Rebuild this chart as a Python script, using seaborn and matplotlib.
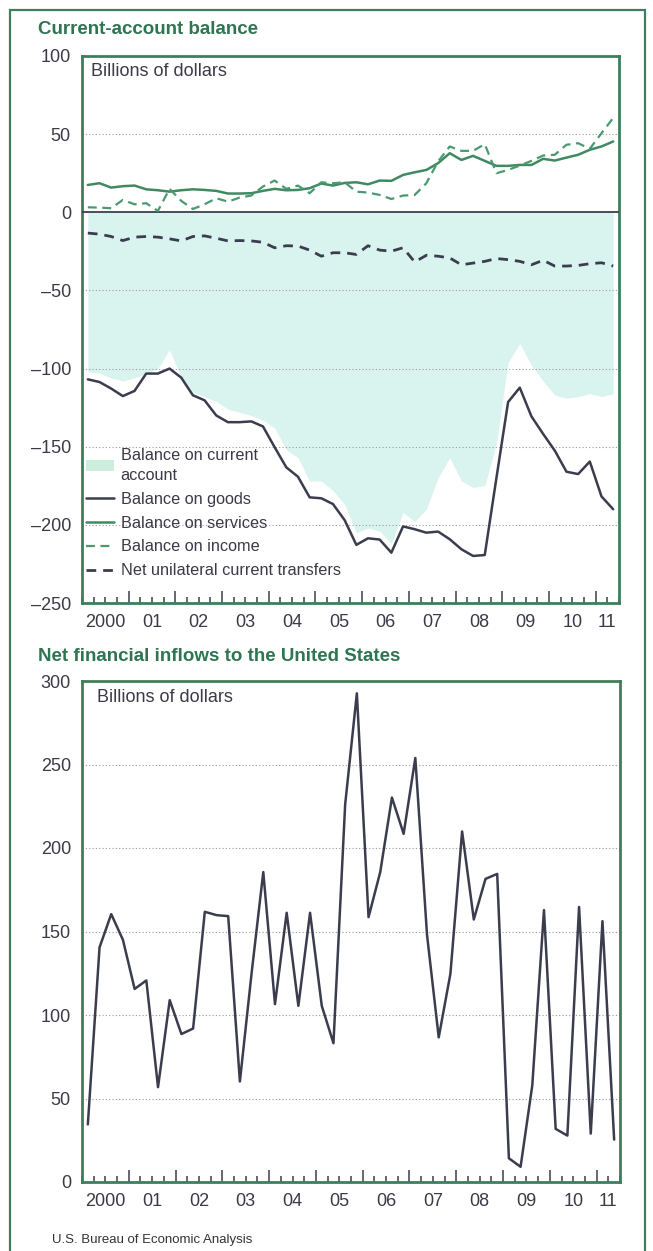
import matplotlib
matplotlib.use("Agg")
import matplotlib.pyplot as plt
import seaborn as sns
import pandas as pd
from matplotlib.patches import Patch, Rectangle
from matplotlib.lines import Line2D
from matplotlib.ticker import MultipleLocator

# ---------------- data (billions of dollars, quarterly 2000Q1-2011Q2) ----------------
years = list(range(2000, 2012))
n_quarters = 46

current_account = [-102, -103, -106, -108, -106, -103, -100, -88, -106, -115,
                   -118, -121, -126, -128, -130, -133, -138, -152, -157, -172,
                   -172, -178, -187, -205, -202, -204, -212, -192, -198, -190,
                   -170, -157, -172, -176, -175, -148, -96, -84, -98, -108,
                   -117, -119, -118, -116, -118, -116]
goods = [-106.9, -108.6, -112.8, -117.6, -114.3, -103.2, -103.2, -100.0, -105.8, -117.1,
         -120.3, -130.0, -134.3, -134.3, -133.8, -137.0, -150.3, -163.2, -169.2, -182.4,
         -183.0, -186.7, -197.0, -212.8, -208.6, -209.4, -217.8, -201.0, -202.8, -205.0,
         -204.3, -209.2, -215.6, -219.9, -219.3, -170.0, -121.4, -112.2, -130.6, -141.8,
         -152.5, -166.0, -167.5, -159.5, -181.8, -190.0]
services = [17.5, 18.6, 15.8, 16.7, 17.1, 14.7, 14.1, 13.2, 14.1, 14.7,
            14.3, 13.7, 12.0, 12.0, 12.2, 13.7, 15.0, 14.1, 14.3, 15.4,
            18.4, 17.1, 18.8, 19.2, 17.9, 20.3, 20.1, 23.9, 25.6, 27.1,
            31.4, 37.8, 33.5, 36.1, 32.9, 29.7, 29.7, 30.3, 30.3, 34.2,
            33.1, 35.0, 36.8, 40.0, 42.1, 45.3]
income = [3.2, 3.0, 2.6, 7.9, 5.1, 5.8, 0.9, 15.0, 7.3, 2.1,
          5.1, 9.0, 6.8, 9.4, 10.7, 16.5, 20.3, 15.0, 17.1, 12.2,
          19.2, 18.6, 19.2, 13.2, 12.6, 11.1, 8.5, 10.7, 11.1, 18.6,
          32.5, 42.1, 39.3, 39.3, 43.6, 25.0, 27.1, 29.9, 32.9, 36.3,
          36.8, 43.2, 44.2, 40.6, 50.6, 60.3]
transfers = [-13.3, -14.0, -15.5, -18.1, -15.9, -15.5, -15.9, -17.0, -18.3, -15.5,
             -15.1, -16.6, -18.3, -18.1, -18.3, -19.2, -22.7, -21.4, -21.6, -24.2,
             -28.1, -25.9, -25.9, -27.0, -21.4, -24.2, -24.9, -22.7, -31.8, -27.5,
             -28.1, -29.2, -33.6, -32.5, -31.4, -29.6, -30.3, -31.4, -33.6, -30.7,
             -34.4, -34.4, -34.0, -32.9, -32.3, -34.4]
net_inflows = [34.5, 140.5, 160.4, 145.0, 115.6, 120.7, 56.8, 108.9, 88.6, 91.9,
               161.8, 159.8, 159.2, 60.2, 125.0, 185.6, 106.5, 161.2, 105.5, 161.2,
               105.5, 83.1, 226.0, 292.6, 158.6, 185.6, 230.2, 208.5, 253.9, 148.0,
               86.6, 124.7, 209.9, 157.2, 181.5, 184.5, 14.2, 9.1, 57.8, 162.8,
               31.8, 27.8, 164.7, 29.0, 156.2, 25.4]

year_labels = ["2000", "01", "02", "03", "04", "05", "06", "07", "08", "09", "10", "11"]
top_yticks = [100, 50, 0, -50, -100, -150, -200, -250]
top_yticklabels = ["100", "50", "0", "\u201350", "\u2013100", "\u2013150", "\u2013200", "\u2013250"]
bot_yticks = [0, 50, 100, 150, 200, 250, 300]

# quarter mid-points on a decimal-year axis
quarter_x = [y + (q - 0.5) / 4 for y in years for q in range(1, 5)][:n_quarters]
df = pd.DataFrame({"x": quarter_x, "ca": current_account, "goods": goods,
                   "services": services, "income": income,
                   "transfers": transfers, "inflows": net_inflows})

# ---------------- style ----------------
sns.set_style("white")
plt.rcParams["font.family"] = ["Liberation Sans", "DejaVu Sans"]
TEXT = "#3a3a48"
DARK = "#3b3d4f"
GREEN = "#3f8a62"
GREEN_D = "#4a9a70"
FRAME = "#3f7d5c"
TITLE = "#2f7552"
FILL = "#d9f4ef"
LEGFILL = "#cdeedc"
GRID = "#9a9a9a"

W, H = 653, 1251
fig = plt.figure(figsize=(W / 100, H / 100), dpi=100)
fig.patch.set_facecolor("white")


def fx(px):
    return px / W


def fy(py):
    return 1 - py / H


def style_axes(ax, xlim, ylim, yticks, ylabels, grid_vals):
    ax.set_xlim(*xlim)
    ax.set_ylim(*ylim)
    ax.set_yticks(yticks)
    ax.set_yticklabels(ylabels)
    ax.tick_params(axis="y", length=0, pad=8, labelsize=13, labelcolor=TEXT)
    for s in ax.spines.values():
        s.set_visible(True)
        s.set_color(FRAME)
        s.set_linewidth(2.0)
    for g in grid_vals:
        ax.axhline(g, color=GRID, lw=0.8, ls=(0, (1, 2)), zorder=2.5)
    # tick marks: years (long) and quarters (short), pointing into the plot
    ax.set_xticks(list(range(2001, 2012)))
    ax.set_xticklabels([])
    ax.xaxis.set_minor_locator(MultipleLocator(0.25))
    ax.tick_params(axis="x", which="major", direction="in", length=9, width=1.1,
                   color=DARK, bottom=True, top=False)
    ax.tick_params(axis="x", which="minor", direction="in", length=4, width=1.1,
                   color=DARK, bottom=True, top=False)
    # year labels centred in each year
    sec = ax.secondary_xaxis("bottom")
    mids = [y + 0.5 for y in years[:-1]] + [years[-1] + 0.25]
    sec.set_xticks(mids)
    sec.set_xticklabels(year_labels)
    sec.tick_params(length=0, pad=8, labelsize=13, labelcolor=TEXT)
    sec.spines["bottom"].set_visible(False)
    ax.set_xlabel("")
    ax.set_ylabel("")


# ---------------- top panel ----------------
ax1 = fig.add_axes([fx(82), fy(603), fx(537), 547 / H])
ax1.fill_between(df["x"], df["ca"], 0, color=FILL, lw=0, zorder=1)
ax1.axhline(0, color=DARK, lw=1.3, zorder=2.6)
sns.lineplot(data=df, x="x", y="goods", ax=ax1, color=DARK, lw=1.8, zorder=3, legend=False, sort=False)
sns.lineplot(data=df, x="x", y="services", ax=ax1, color=GREEN, lw=1.8, zorder=3, legend=False, sort=False)
sns.lineplot(data=df, x="x", y="income", ax=ax1, color=GREEN_D, lw=1.6, zorder=3, legend=False,
             sort=False, linestyle=(0, (4, 2.5)))
sns.lineplot(data=df, x="x", y="transfers", ax=ax1, color=DARK, lw=2.0, zorder=3, legend=False,
             sort=False, linestyle=(0, (3.5, 2.5)))
style_axes(ax1, (2000, 2011.5), (-250, 100), top_yticks, top_yticklabels,
           [50, -50, -100, -150, -200])
ax1.text(0.017, 0.971, "Billions of dollars", transform=ax1.transAxes, ha="left", va="center",
         fontsize=13, color=TEXT)

handles = [Patch(facecolor=LEGFILL, edgecolor="none"),
           Line2D([], [], color=DARK, lw=1.8),
           Line2D([], [], color=GREEN, lw=1.8),
           Line2D([], [], color=GREEN_D, lw=1.6, ls=(0, (4, 2.5))),
           Line2D([], [], color=DARK, lw=2.0, ls=(0, (3.5, 2.5)))]
labels = ["Balance on current\naccount", "Balance on goods", "Balance on services",
          "Balance on income", "Net unilateral current transfers"]
leg = ax1.legend(handles, labels, loc="lower left", bbox_to_anchor=(0.007, 0.045),
                 frameon=False, fontsize=11.7, handlelength=1.75, handletextpad=0.4,
                 labelspacing=0.55, borderpad=0, borderaxespad=0, labelcolor=TEXT)
for t in leg.get_texts():
    t.set_linespacing(1.4)
leg.set_zorder(5)

# ---------------- bottom panel ----------------
ax2 = fig.add_axes([fx(82), fy(1182), fx(538), 501 / H])
sns.lineplot(data=df, x="x", y="inflows", ax=ax2, color=DARK, lw=1.8, zorder=3, legend=False, sort=False)
style_axes(ax2, (2000, 2011.5), (0, 300), bot_yticks, [str(v) for v in bot_yticks],
           [50, 100, 150, 200, 250])
ax2.text(0.028, 0.968, "Billions of dollars", transform=ax2.transAxes, ha="left", va="center",
         fontsize=13, color=TEXT)

# ---------------- titles, frame, source ----------------
title_family = ["Liberation Sans Narrow", "Liberation Sans", "DejaVu Sans"]
fig.text(fx(38), fy(30), "Current-account balance", ha="left", va="center",
         fontsize=13.5, fontweight="bold", color=TITLE, family=title_family)
fig.text(fx(38), fy(657), "Net financial inflows to the United States", ha="left", va="center",
         fontsize=13.5, fontweight="bold", color=TITLE, family=title_family)
fig.text(fx(52), fy(1240), "U.S. Bureau of Economic Analysis", ha="left", va="center",
         fontsize=9.5, color="#333333")
fig.add_artist(Rectangle((fx(10), -0.02), fx(645 - 10), (H - 10) / H + 0.02,
                         transform=fig.transFigure, fill=False, ec=FRAME, lw=1.6))

fig.savefig("out.png", dpi=100)
